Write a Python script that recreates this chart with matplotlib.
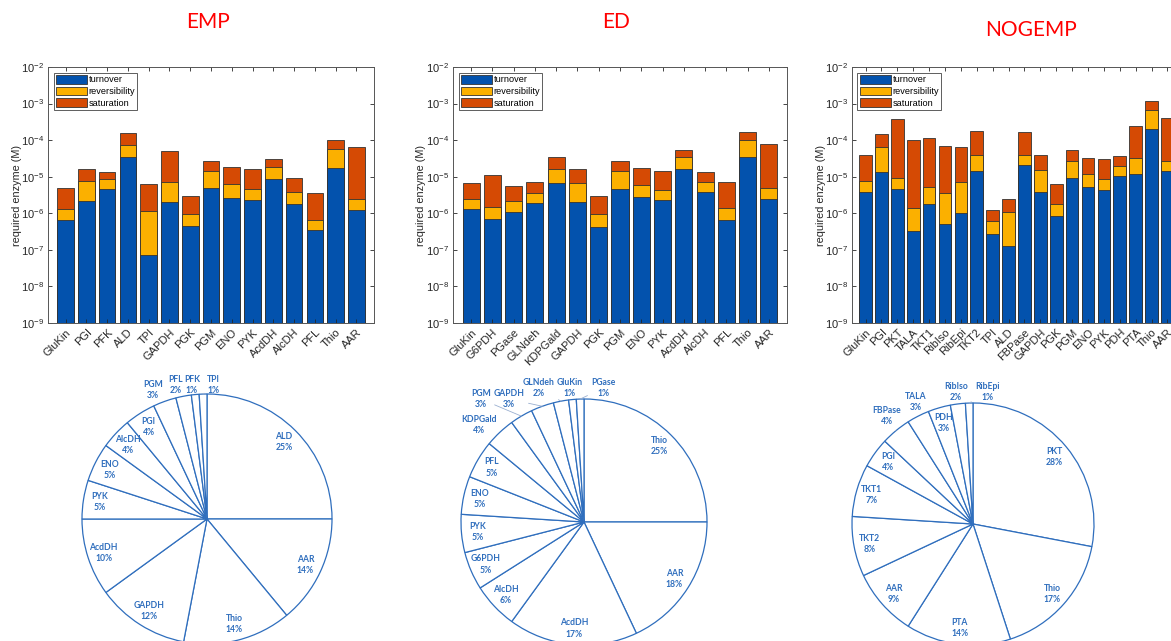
import numpy as np
import matplotlib
matplotlib.use('Agg')
import matplotlib.pyplot as plt

W, H = 1171, 641

# required enzyme levels (M): turnover only, + reversibility, + saturation
emp_names = ['GluKin', 'PGI', 'PFK', 'ALD', 'TPI', 'GAPDH', 'PGK', 'PGM', 'ENO',
             'PYK', 'AcdDH', 'AlcDH', 'PFL', 'Thio', 'AAR']
emp_turnover = [6.7e-7, 2.23e-6, 4.5e-6, 3.5e-5, 7.3e-8, 2.1e-6, 4.5e-7, 4.9e-6,
                2.7e-6, 2.33e-6, 8.8e-6, 1.85e-6, 3.55e-7, 1.7e-5, 1.21e-6]
emp_reversibility = [1.29e-6, 7.6e-6, 8.8e-6, 7.3e-5, 1.18e-6, 7.1e-6, 9.4e-7, 1.46e-5,
                     6.3e-6, 4.6e-6, 1.88e-5, 3.8e-6, 6.7e-7, 5.8e-5, 2.43e-6]
emp_saturation = [5.0e-6, 1.59e-5, 1.37e-5, 1.56e-4, 6.15e-6, 4.9e-5, 3.0e-6, 2.75e-5,
                  1.81e-5, 1.59e-5, 3.1e-5, 9.2e-6, 3.6e-6, 9.8e-5, 6.6e-5]

ed_names = ['GluKin', 'G6PDH', 'PGase', 'GLNdeh', 'KDPGald', 'GAPDH', 'PGK', 'PGM',
            'ENO', 'PYK', 'AcdDH', 'AlcDH', 'PFL', 'Thio', 'AAR']
ed_turnover = [1.31e-6, 7.1e-7, 1.1e-6, 1.95e-6, 6.9e-6, 1.99e-6, 4.3e-7, 4.7e-6,
               2.79e-6, 2.31e-6, 1.66e-5, 3.73e-6, 6.7e-7, 3.53e-5, 2.45e-6]
ed_reversibility = [2.5e-6, 1.48e-6, 2.12e-6, 3.7e-6, 1.63e-5, 6.6e-6, 9.5e-7, 1.43e-5,
                    5.9e-6, 4.3e-6, 3.46e-5, 7.2e-6, 1.36e-6, 1.01e-4, 4.8e-6]
ed_saturation = [6.9e-6, 1.11e-5, 5.6e-6, 7.2e-6, 3.5e-5, 1.63e-5, 2.96e-6, 2.69e-5,
                 1.73e-5, 1.46e-5, 5.5e-5, 1.32e-5, 7.2e-6, 1.67e-4, 7.7e-5]

nog_names = ['GluKin', 'PGI', 'PKT', 'TALA', 'TKT1', 'RibIso', 'RibEpi', 'TKT2', 'TPI',
             'ALD', 'FBPase', 'GAPDH', 'PGK', 'PGM', 'ENO', 'PYK', 'PDH', 'PTA',
             'Thio', 'AAR']
nog_turnover = [3.74e-6, 1.31e-5, 4.7e-6, 3.2e-7, 1.81e-6, 5.2e-7, 9.9e-7, 1.42e-5,
                2.77e-7, 1.31e-7, 2.06e-5, 3.9e-6, 8.5e-7, 9.2e-6, 5.2e-6, 4.4e-6,
                1.06e-5, 1.18e-5, 2.04e-4, 1.39e-5]
nog_reversibility = [7.4e-6, 6.6e-5, 9.2e-6, 1.41e-6, 5.4e-6, 3.5e-6, 7.0e-6, 4.0e-5,
                     6.1e-7, 1.1e-6, 4.0e-5, 1.57e-5, 1.85e-6, 2.76e-5, 1.2e-5, 8.6e-6,
                     2.02e-5, 3.33e-5, 6.7e-4, 2.76e-5]
nog_saturation = [3.86e-5, 1.49e-4, 3.7e-4, 1.03e-4, 1.11e-4, 6.9e-5, 6.6e-5, 1.76e-4,
                  1.22e-6, 2.47e-6, 1.62e-4, 3.86e-5, 6.2e-6, 5.3e-5, 3.33e-5, 3.0e-5,
                  3.62e-5, 2.46e-4, 1.15e-3, 4.1e-4]

# share of total enzyme (%), clockwise from 12 o'clock
emp_pie_names = ['ALD', 'AAR', 'Thio', 'GAPDH', 'AcdDH', 'PYK', 'ENO', 'AlcDH',
                 'PGI', 'PGM', 'PFL', 'PFK', 'TPI']
emp_pie_pct = [25, 14, 14, 12, 10, 5, 5, 4, 4, 3, 2, 1, 1]

ed_pie_names = ['Thio', 'AAR', 'AcdDH', 'AlcDH', 'G6PDH', 'PYK', 'ENO', 'PFL',
                'KDPGald', 'PGM', 'GAPDH', 'GLNdeh', 'GluKin', 'PGase']
ed_pie_pct = [25, 18, 17, 6, 5, 5, 5, 5, 4, 3, 3, 2, 1, 1]

nog_pie_names = ['PKT', 'Thio', 'PTA', 'AAR', 'TKT2', 'TKT1', 'PGI', 'FBPase',
                 'TALA', 'PDH', 'RibIso', 'RibEpi']
nog_pie_pct = [28, 17, 14, 9, 8, 7, 4, 4, 3, 3, 2, 1]

BLUE = '#0352AD'
YELLOW = '#FBB000'
RED = '#D54A04'
PIE_BLUE = '#2F6EBD'
AXCOL = '#262626'

plt.rcParams['font.family'] = ['Liberation Sans', 'DejaVu Sans']


def px_axes(fig, left, top, right, bottom):
    return fig.add_axes([left / W, 1 - bottom / H, (right - left) / W, (bottom - top) / H])


def bar_panel(fig, box, names, turnover, reversibility, saturation):
    ax = px_axes(fig, *box)
    x = np.arange(1, len(names) + 1)
    kw = dict(width=0.8, bottom=1e-9, edgecolor='#333333', linewidth=0.6)
    hs = ax.bar(x, np.array(saturation) - 1e-9, color=RED, label='saturation', **kw)
    hr = ax.bar(x, np.array(reversibility) - 1e-9, color=YELLOW, label='reversibility', **kw)
    ht = ax.bar(x, np.array(turnover) - 1e-9, color=BLUE, label='turnover', **kw)
    ax.set_yscale('log')
    ax.set_ylim(1e-9, 1e-2)
    ax.set_xlim(0.15, len(names) + 0.85)
    ax.set_xticks(x)
    ax.set_xticklabels(names, rotation=45, ha='right', va='top',
                       rotation_mode='anchor', fontsize=8, color=AXCOL)
    ax.set_yticks([10.0 ** k for k in range(-9, -1)])
    ax.yaxis.set_minor_locator(matplotlib.ticker.NullLocator())
    ax.tick_params(axis='both', direction='in', length=3, width=0.6, top=True,
                   right=True, colors=AXCOL, labelsize=8, pad=3)
    for s in ax.spines.values():
        s.set_color('#555555')
        s.set_linewidth(0.7)
    ax.set_ylabel('required enzyme (M)', fontsize=7.8, color=AXCOL)
    ax.yaxis.set_label_coords(-0.08, 0.5)
    leg = ax.legend([ht, hr, hs], ['turnover', 'reversibility', 'saturation'],
                    loc='upper left', fontsize=6.6, fancybox=False, framealpha=1,
                    edgecolor='#444444', handlelength=3.4, handleheight=1.1,
                    handletextpad=0.15, labelspacing=0.25, borderpad=0.25,
                    borderaxespad=0.6)
    leg.get_frame().set_linewidth(0.6)
    return ax


def pie_panel(fig, cx, cy, r, names, pct, outside, leaders):
    half = 1.3 * r
    ax = px_axes(fig, cx - half, cy - half, cx + half, cy + half)
    wedges, _ = ax.pie(pct, counterclock=False, startangle=90, radius=1,
                       wedgeprops=dict(facecolor='white', edgecolor=PIE_BLUE,
                                       linewidth=0.9))
    for w, name, p in zip(wedges, names, pct):
        mid = np.deg2rad((w.theta1 + w.theta2) / 2)
        label = '%s\n%d%%' % (name, p)
        tkw = dict(ha='center', va='center', fontsize=6.2, fontweight='bold',
                   color=PIE_BLUE, family=['Lato', 'DejaVu Sans'], linespacing=1.3)
        if name in outside:
            pos = outside[name]
            if name in leaders:
                ax.annotate(label, xy=(np.cos(mid), np.sin(mid)), xytext=pos,
                            arrowprops=dict(arrowstyle='-', color='#9AAFD0', lw=0.6,
                                            shrinkA=1, shrinkB=0), **tkw)
            else:
                ax.text(pos[0], pos[1], label, **tkw)
        else:
            ax.text(0.87 * np.cos(mid), 0.87 * np.sin(mid), label, **tkw)
    ax.set_xlim(-1.3, 1.3)
    ax.set_ylim(-1.3, 1.3)
    ax.set_aspect('equal')
    ax.axis('off')
    return ax


fig = plt.figure(figsize=(W / 100, H / 100), dpi=100)

bar_panel(fig, (48, 67, 374, 323), emp_names, emp_turnover, emp_reversibility, emp_saturation)
bar_panel(fig, (453, 67, 787, 323), ed_names, ed_turnover, ed_reversibility, ed_saturation)
bar_panel(fig, (852, 67, 1181, 323), nog_names, nog_turnover, nog_reversibility, nog_saturation)

pie_panel(fig, 207, 519, 125, emp_pie_names, emp_pie_pct,
          {'PGM': (-0.43, 1.03), 'PFL': (-0.25, 1.07), 'PFK': (-0.12, 1.07),
           'TPI': (0.05, 1.07)}, {'TPI'})
pie_panel(fig, 584, 522, 123, ed_pie_names, ed_pie_pct,
          {'KDPGald': (-0.85, 0.79), 'PGM': (-0.84, 1.0), 'GAPDH': (-0.61, 1.0),
           'GLNdeh': (-0.37, 1.09), 'GluKin': (-0.12, 1.09), 'PGase': (0.16, 1.09)},
          {'PGM', 'GAPDH', 'GLNdeh', 'PGase'})
pie_panel(fig, 973, 524, 121, nog_pie_names, nog_pie_pct,
          {'FBPase': (-0.71, 0.89), 'TALA': (-0.47, 1.01), 'RibIso': (-0.14, 1.09),
           'RibEpi': (0.12, 1.09)}, {'FBPase', 'RibEpi'})

for label, x, y in [('EMP', 208, 22), ('ED', 616, 22), ('NOGEMP', 1031, 30)]:
    fig.text(x / W, 1 - y / H, label, ha='center', va='center', color='red',
             fontsize=15, family=['Lato', 'DejaVu Sans'])

fig.savefig('out.png', dpi=100)
